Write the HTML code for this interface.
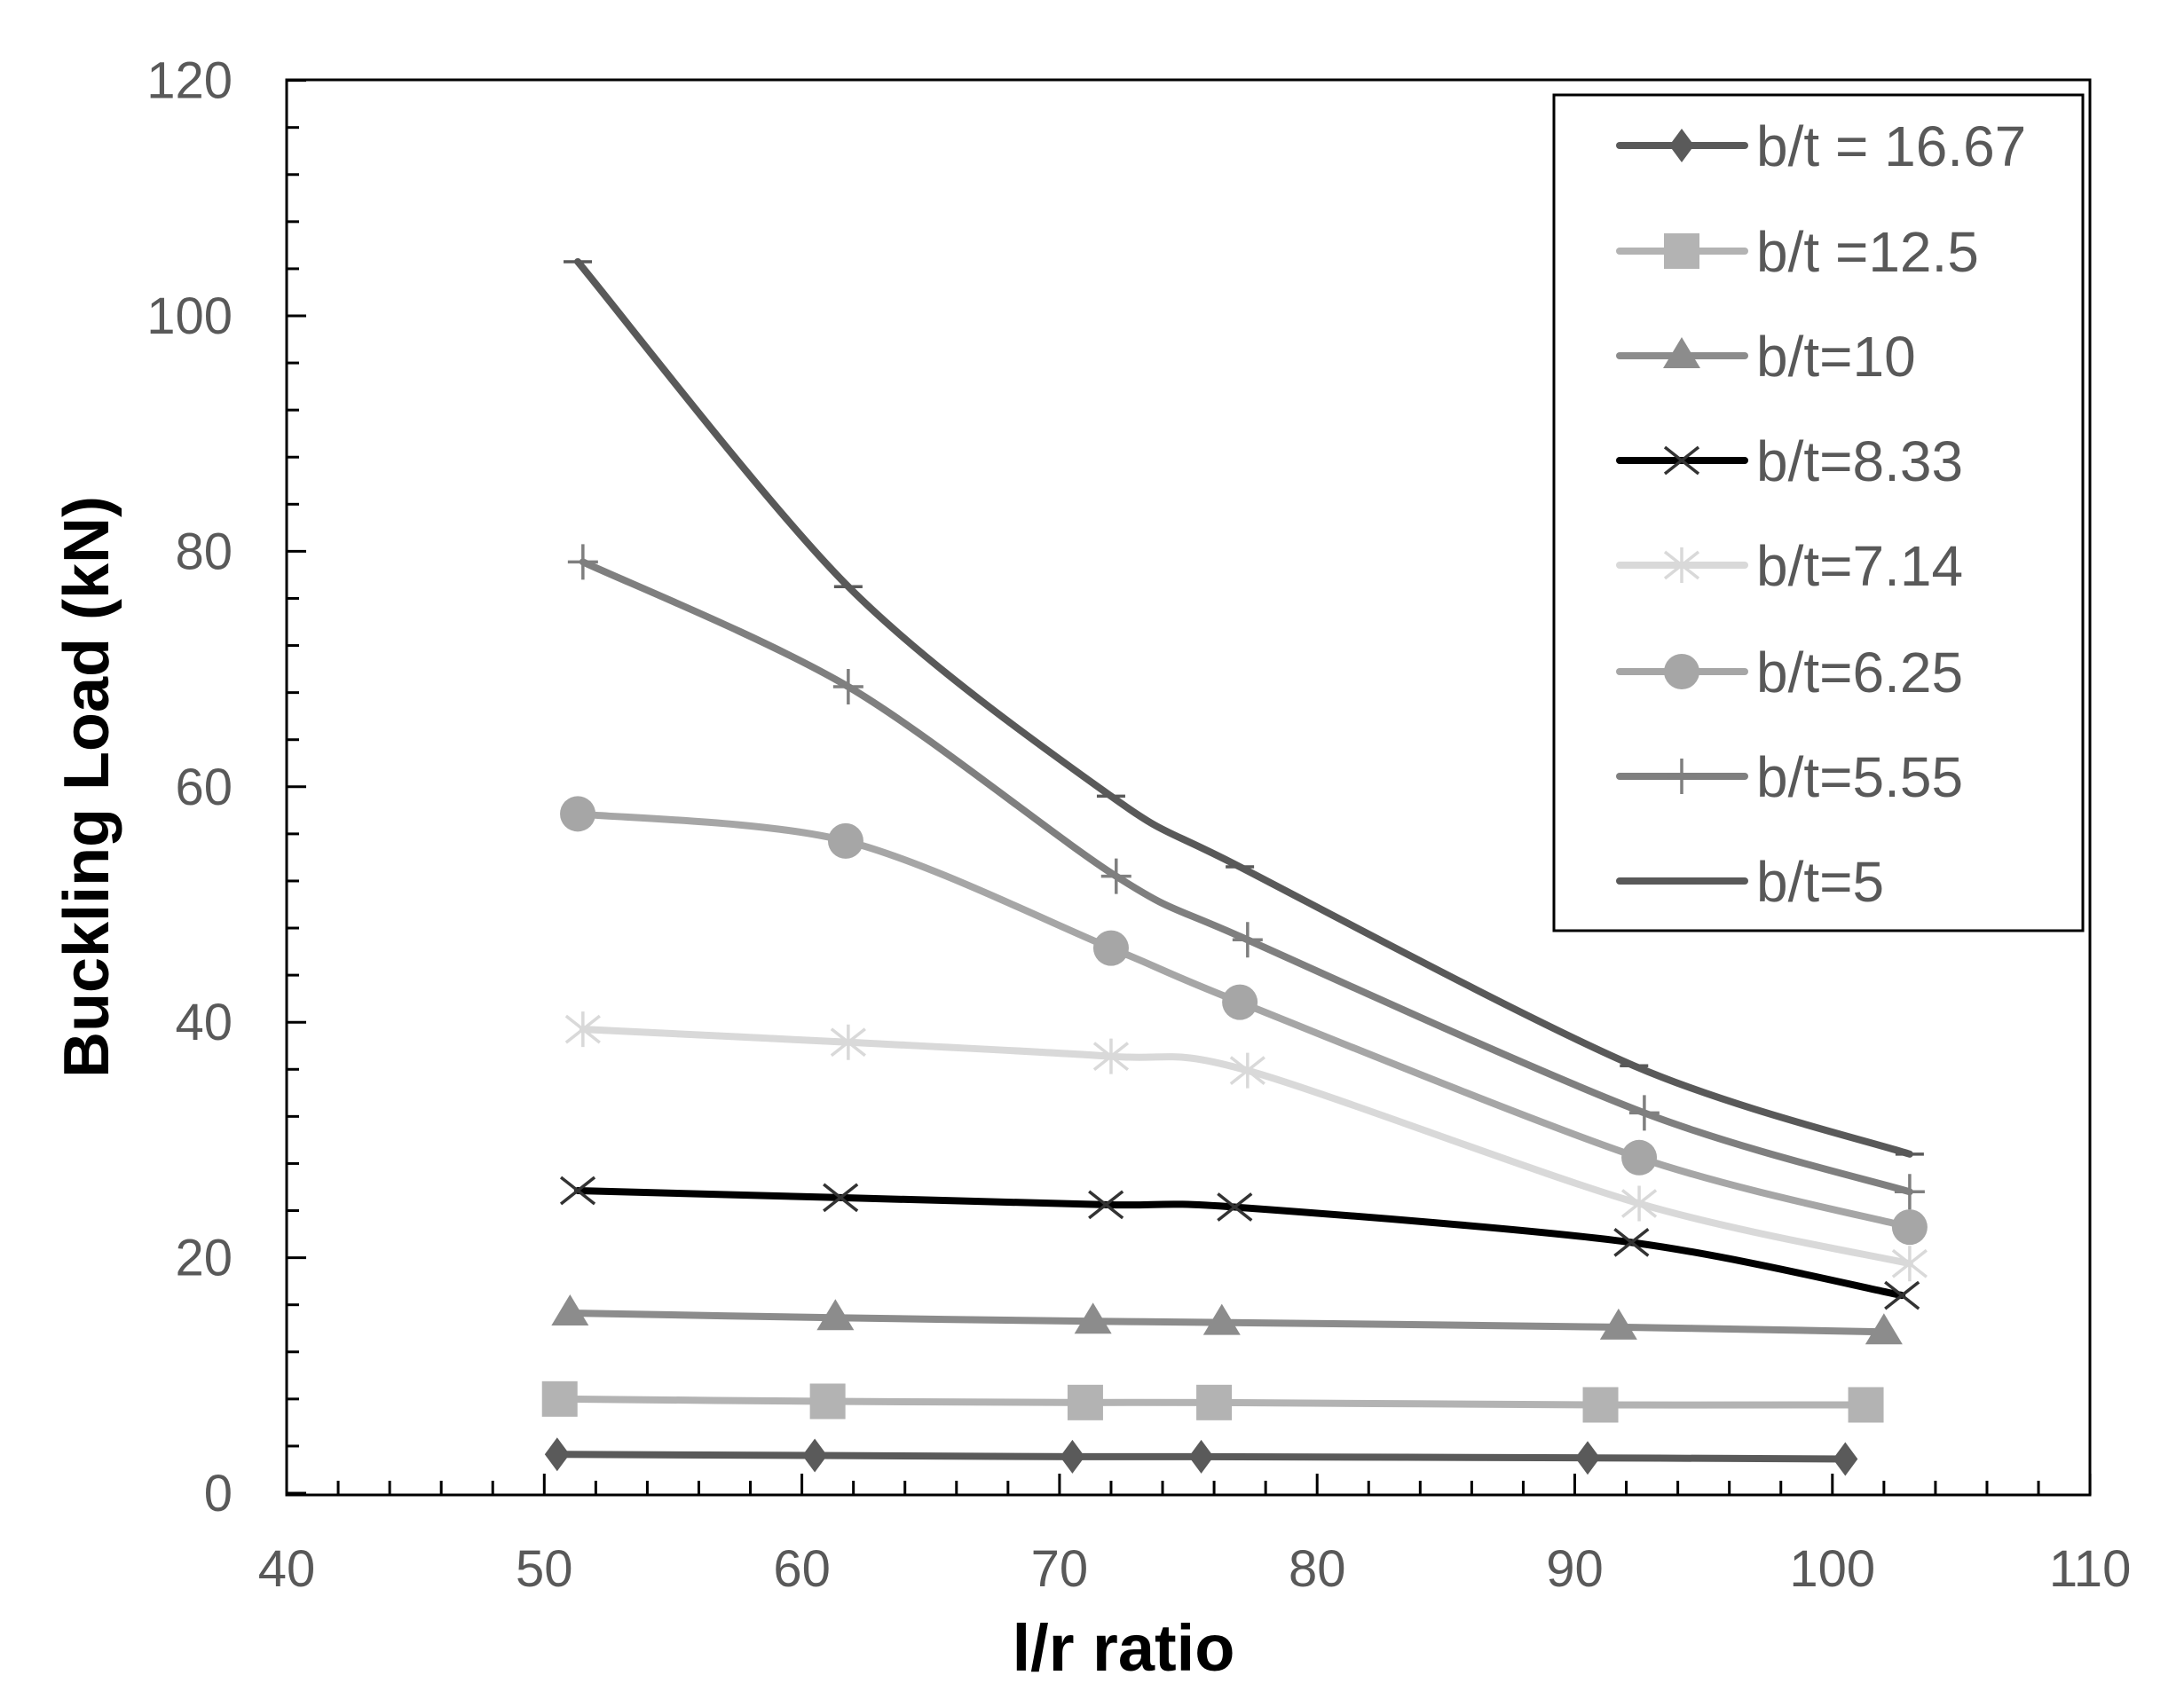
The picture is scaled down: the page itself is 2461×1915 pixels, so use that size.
<!DOCTYPE html>
<html><head><meta charset="utf-8"><style>
html,body{margin:0;padding:0;background:#fff;}
svg{display:block;}
text{font-family:"Liberation Sans",sans-serif;}
</style></head><body>
<svg id="s" width="2461" height="1915" viewBox="0 0 2461 1915" xmlns="http://www.w3.org/2000/svg">
<rect width="2461" height="1915" fill="#fff"/>
<g id="ticks"></g>
<g id="series"></g>
<rect x="323" y="90" width="2032" height="1595" fill="none" stroke="#000" stroke-width="3"/>
<g id="labels" font-size="58" fill="#595959"></g>
<text x="1266" y="1883" font-size="74" font-weight="bold" text-anchor="middle" fill="#000">l/r ratio</text>
<text transform="translate(122,887) rotate(-90)" font-size="72" font-weight="bold" text-anchor="middle" fill="#000">Buckling Load (kN)</text>
<rect x="1751" y="107" width="596" height="942" fill="#fff" stroke="#000" stroke-width="3"/>
<g id="legend"></g>
</svg>
<script>
const NS="http://www.w3.org/2000/svg";
function X(v){return 323+(v-40)*29.03;}
function Y(v){return 1683-v*13.27;}
function el(tag,attrs,parent,txt){const e=document.createElementNS(NS,tag);for(const k in attrs)e.setAttribute(k,attrs[k]);if(txt!==undefined)e.textContent=txt;parent.appendChild(e);return e;}
const T=document.getElementById('ticks'),L=document.getElementById('labels'),S=document.getElementById('series'),G=document.getElementById('legend');
for(let v=0;v<=120;v+=4){const y=Y(v);const maj=v%20==0;el('line',{x1:323,x2:323+(maj?22:14),y1:y,y2:y,stroke:'#000','stroke-width':3},T);}
for(let v=0;v<=120;v+=20){el('text',{x:262,y:Y(v)+20,'text-anchor':'end'},L,String(v));}
for(let v=40;v<=110;v+=2){const x=X(v);const maj=v%10==0;el('line',{x1:x,x2:x,y1:1685,y2:1685-(maj?24:16),stroke:'#000','stroke-width':3},T);}
for(let v=40;v<=110;v+=10){el('text',{x:X(v),y:1788,'text-anchor':'middle'},L,String(v));}
const data=[
 {c:'#5a5a5a',m:'diamond',xs:[50.5,60.5,70.5,75.5,90.5,100.5],ys:[3.3,3.2,3.1,3.1,3.0,2.9],lab:'b/t = 16.67'},
 {c:'#b3b3b3',m:'square',xs:[50.6,61,71,76,91,101.3],ys:[8,7.8,7.7,7.7,7.5,7.5],lab:'b/t =12.5'},
 {c:'#8c8c8c',m:'tri',xs:[51,61.3,71.3,76.3,91.7,102],ys:[15.3,14.9,14.6,14.5,14.1,13.7],lab:'b/t=10'},
 {c:'#000000',m:'x',xs:[51.3,61.5,71.8,76.8,92.2,102.7],ys:[25.7,25.1,24.5,24.3,21.3,16.8],lab:'b/t=8.33'},
 {c:'#d9d9d9',m:'star',xs:[51.5,61.8,72,77.3,92.5,103],ys:[39.4,38.3,37.1,35.9,24.6,19.5],lab:'b/t=7.14'},
 {c:'#a6a6a6',m:'circle',xs:[51.3,61.7,72,77,92.5,103],ys:[57.7,55.4,46.3,41.7,28.5,22.6],lab:'b/t=6.25'},
 {c:'#7f7f7f',m:'plus',xs:[51.5,61.8,72.2,77.3,92.7,103],ys:[79.1,68.5,52.4,47,32.3,25.6],lab:'b/t=5.55'},
 {c:'#595959',m:'dash',xs:[51.3,61.8,72,77,92.3,103],ys:[104.6,77,59.2,53.2,36.3,28.8],lab:'b/t=5'}
];
function path(p){let d=`M${p[0][0]},${p[0][1]}`;for(let i=0;i<p.length-1;i++){const p0=p[Math.max(0,i-1)],p1=p[i],p2=p[i+1],p3=p[Math.min(p.length-1,i+2)];const t=0.3;const c1=[p1[0]+(p2[0]-p0[0])*t/2,p1[1]+(p2[1]-p0[1])*t/2];const c2=[p2[0]-(p3[0]-p1[0])*t/2,p2[1]-(p3[1]-p1[1])*t/2];d+=` C${c1[0]},${c1[1]} ${c2[0]},${c2[1]} ${p2[0]},${p2[1]}`;}return d;}
function marker(m,x,y,c,par){
 if(m=='diamond')el('polygon',{points:`${x},${y-19} ${x+14},${y} ${x},${y+19} ${x-14},${y}`,fill:c},par);
 else if(m=='square')el('rect',{x:x-20,y:y-20,width:40,height:40,fill:c},par);
 else if(m=='tri')el('polygon',{points:`${x},${y-21} ${x+21},${y+14} ${x-21},${y+14}`,fill:c},par);
 else if(m=='circle')el('circle',{cx:x,cy:y,r:20,fill:c},par);
 else if(m=='x'){el('path',{d:`M${x-19},${y-15}L${x+19},${y+15}M${x-19},${y+15}L${x+19},${y-15}`,stroke:'#333','stroke-width':3.5,fill:'none'},par);}
 else if(m=='star'){el('path',{d:`M${x-19},${y-15}L${x+19},${y+15}M${x-19},${y+15}L${x+19},${y-15}M${x},${y-20}L${x},${y+20}`,stroke:c,'stroke-width':3.5,fill:'none'},par);}
 else if(m=='plus'){el('path',{d:`M${x-17},${y}L${x+17},${y}M${x},${y-20}L${x},${y+20}`,stroke:c,'stroke-width':3.5,fill:'none'},par);}
 else if(m=='dash'){el('path',{d:`M${x-16},${y}L${x+16},${y}`,stroke:c,'stroke-width':3.5,fill:'none'},par);}
}
data.forEach((s,k)=>{
 const p=s.xs.map((v,i)=>[X(v),Y(s.ys[i])]);
 el('path',{d:path(p),stroke:s.c,'stroke-width':8,fill:'none','stroke-linejoin':'round','stroke-linecap':'round'},S);
 p.forEach(q=>marker(s.m,q[0],q[1],s.c,S));
 const ly=[164,283,401,519,637,757,875,993][k];
 el('line',{x1:1825,x2:1966,y1:ly,y2:ly,stroke:s.c,'stroke-width':8,'stroke-linecap':'round'},G);
 marker(s.m,1895,ly,s.c,G);
 el('text',{x:1979,y:ly+23,'font-size':64,fill:'#595959'},G,s.lab);
});
</script>
</body></html>
